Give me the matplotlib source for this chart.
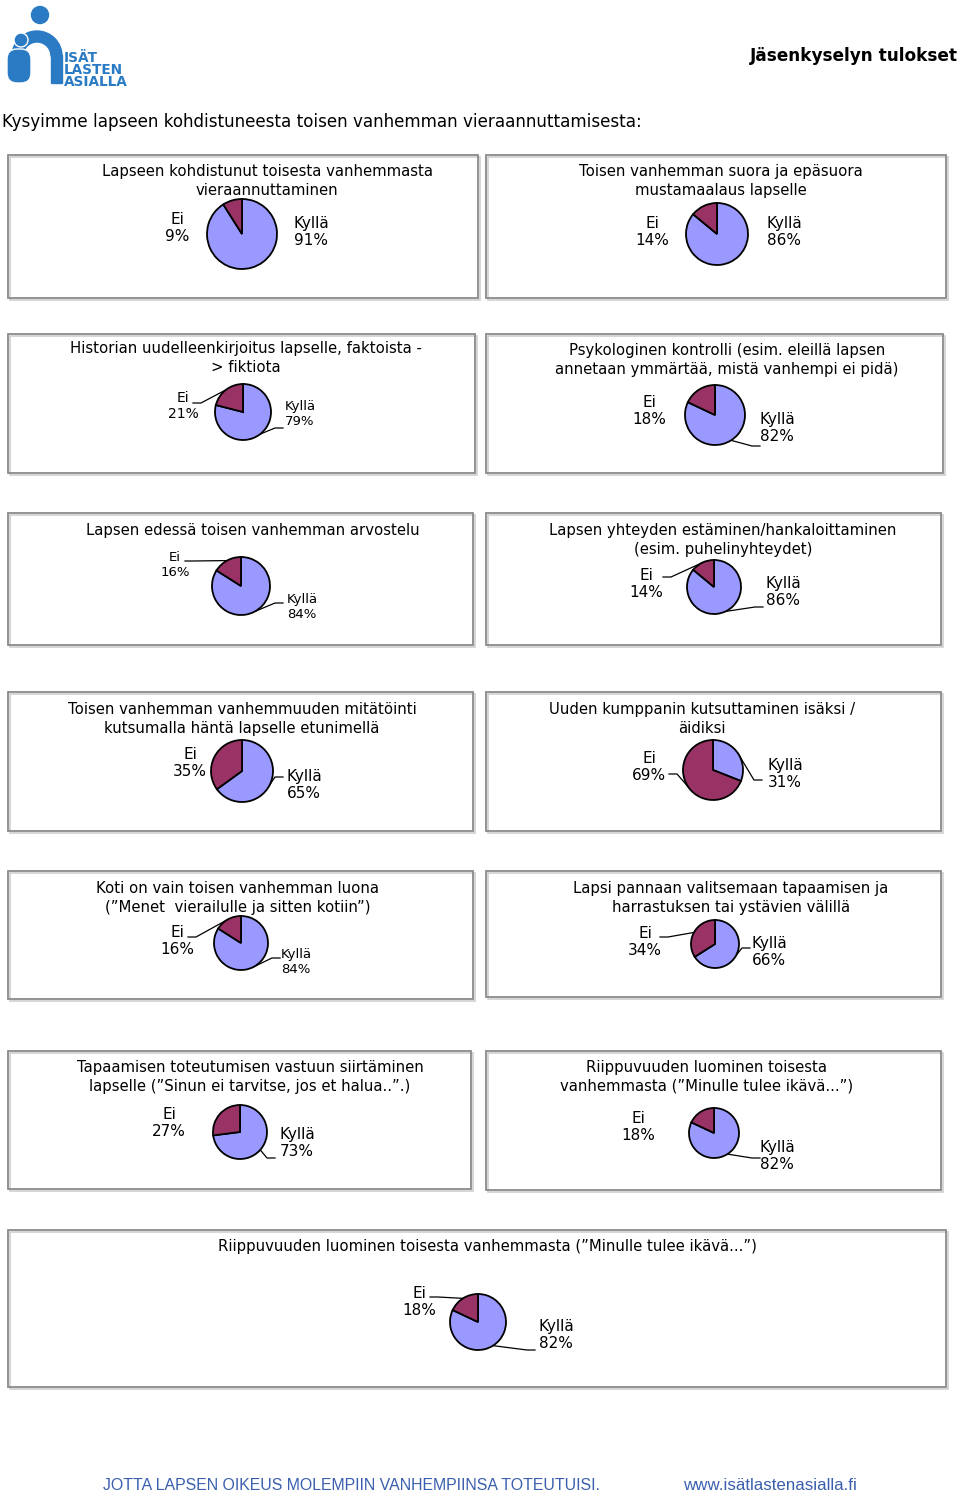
import numpy as np
import matplotlib
matplotlib.use("Agg")
import matplotlib.pyplot as plt
from matplotlib.patches import Rectangle, Circle, Wedge, FancyBboxPatch

plt.rcParams['font.family'] = ['DejaVu Sans']

# --- data -----------------------------------------------------------------
titles = [
    "Lapseen kohdistunut toisesta vanhemmasta\nvieraannuttaminen",
    "Toisen vanhemman suora ja epäsuora\nmustamaalaus lapselle",
    "Historian uudelleenkirjoitus lapselle, faktoista -\n> fiktiota",
    "Psykologinen kontrolli (esim. eleillä lapsen\nannetaan ymmärtää, mistä vanhempi ei pidä)",
    "Lapsen edessä toisen vanhemman arvostelu",
    "Lapsen yhteyden estäminen/hankaloittaminen\n(esim. puhelinyhteydet)",
    "Toisen vanhemman vanhemmuuden mitätöinti\nkutsumalla häntä lapselle etunimellä",
    "Uuden kumppanin kutsuttaminen isäksi /\näidiksi",
    "Koti on vain toisen vanhemman luona\n(”Menet  vierailulle ja sitten kotiin”)",
    "Lapsi pannaan valitsemaan tapaamisen ja\nharrastuksen tai ystävien välillä",
    "Tapaamisen toteutumisen vastuun siirtäminen\nlapselle (”Sinun ei tarvitse, jos et halua..”.)",
    "Riippuvuuden luominen toisesta\nvanhemmasta (”Minulle tulee ikävä...”)",
    "Riippuvuuden luominen toisesta vanhemmasta (”Minulle tulee ikävä...”)",
]
kylla = [91, 86, 79, 82, 84, 86, 65, 31, 84, 66, 73, 82, 82]
ei = [9, 14, 21, 18, 16, 14, 35, 69, 16, 34, 27, 18, 18]
labels = ["Kyllä", "Ei"]

# --- layout (pixels) ------------------------------------------------------
boxes = [(8, 155, 478, 298), (486, 155, 946, 298),
         (8, 334, 475, 473), (486, 334, 943, 473),
         (8, 513, 473, 645), (486, 513, 941, 645),
         (8, 692, 473, 831), (486, 692, 941, 831),
         (8, 871, 473, 999), (486, 871, 941, 997),
         (8, 1051, 471, 1189), (486, 1051, 941, 1190),
         (8, 1230, 946, 1387)]
title_xy = [(267, 181), (721, 181), (246, 358), (727, 360), (253, 530),
            (723, 540), (242, 719), (702, 719), (238, 898), (731, 898),
            (250, 1077), (707, 1077), (487, 1247)]
pies = [(242, 234, 35), (717, 234, 31), (243, 412, 28), (715, 415, 30),
        (241, 586, 29), (714, 587, 27), (242, 771, 31), (713, 770, 30),
        (241, 943, 27), (715, 944, 24), (240, 1132, 27), (714, 1133, 25),
        (478, 1322, 28)]
ei_xy = [(177, 228), (652, 232), (183, 406), (649, 411), (175, 565),
         (646, 584), (190, 763), (649, 767), (177, 941), (645, 942),
         (169, 1123), (638, 1127), (419, 1302)]
ky_xy = [(311, 232), (784, 232), (300, 414), (777, 428), (302, 607),
         (783, 592), (304, 785), (785, 774), (296, 962), (769, 952),
         (297, 1143), (777, 1156), (556, 1335)]
lab_size = [11, 11, 10, 11, 9.5, 11, 11, 11, 11, 11, 11, 11, 11]
kyl_size = [11, 11, 9.5, 11, 9.5, 11, 11, 11, 9.5, 11, 11, 11, 11]
# leader line start points (None = no line)
ei_lead = [None, None, (193, 403), None, (185, 561), (663, 577), None,
           (669, 774), (188, 937), (660, 937), None, None, (430, 1297)]
ky_lead = [None, None, (283, 428), (760, 446), (283, 603), (763, 607),
           (283, 777), (762, 780), (280, 958), (750, 948), (275, 1158),
           (760, 1158), (535, 1350)]

C_KYLLA = "#9999ff"
C_EI = "#993366"
W, H = 960, 1494

fig = plt.figure(figsize=(W / 100, H / 100), dpi=100)
ax = fig.add_axes([0, 0, 1, 1])
ax.set_xlim(0, W)
ax.set_ylim(H, 0)
ax.axis("off")

# header / logo (rough shapes)
blue = "#2a7bc4"
ax.add_patch(Circle((40, 15), 8.5, color=blue))
ax.add_patch(Wedge((37, 56), 25, 180, 360, width=11, color=blue))
ax.add_patch(Rectangle((51, 55), 11, 28, color=blue))
ax.add_patch(Circle((21, 40), 7, fc=blue, ec="white", lw=1.0))
ax.add_patch(FancyBboxPatch((7, 49), 24, 34, boxstyle="round,pad=0,rounding_size=10",
                            fc=blue, ec="white", lw=1.0))
for i, word in enumerate(["ISÄT", "LASTEN", "ASIALLA"]):
    ax.text(64, 58 + i * 12, word, color=blue, fontsize=9.8, fontweight="bold",
            va="center", ha="left")
ax.text(958, 56, "Jäsenkyselyn tulokset", fontsize=12.2, fontweight="bold",
        ha="right", va="center")
ax.text(2, 122, "Kysyimme lapseen kohdistuneesta toisen vanhemman vieraannuttamisesta:",
        fontsize=12.1, ha="left", va="center")

for i in range(len(titles)):
    x0, y0, x1, y1 = boxes[i]
    ax.add_patch(Rectangle((x0 + 2, y0 + 2), x1 - x0, y1 - y0, fill=False,
                           ec="#d0d0d0", lw=1.2))
    ax.add_patch(Rectangle((x0, y0), x1 - x0, y1 - y0, fill=False,
                           ec="#8a8a8a", lw=1.3))
    ax.text(title_xy[i][0], title_xy[i][1], titles[i], fontsize=10.7,
            ha="center", va="center", linespacing=1.3)

    cx, cy, r = pies[i]
    pad = r + 2
    pax = fig.add_axes([(cx - pad) / W, 1 - (cy + pad) / H, 2 * pad / W, 2 * pad / H])
    wedges, _ = pax.pie([kylla[i], ei[i]], colors=[C_KYLLA, C_EI], startangle=90,
                        counterclock=False,
                        wedgeprops=dict(edgecolor="black", linewidth=1.3))
    pax.set_xlim(-pad / r, pad / r)
    pax.set_ylim(-pad / r, pad / r)
    pax.set_aspect("equal")
    pax.axis("off")

    ax.text(ei_xy[i][0], ei_xy[i][1], f"Ei\n{ei[i]}%", fontsize=lab_size[i],
            ha="center", va="center", linespacing=1.15)
    ax.text(ky_xy[i][0], ky_xy[i][1], f"{labels[0]}\n{kylla[i]}%",
            fontsize=kyl_size[i], ha="center", va="center", linespacing=1.15)

    for w, start in zip(wedges, [ky_lead[i], ei_lead[i]]):
        if start is None:
            continue
        a = np.deg2rad((w.theta1 + w.theta2) / 2)
        ex, ey = cx + r * np.cos(a), cy - r * np.sin(a)
        step = 8 if ex > start[0] else -8
        ax.plot([start[0], start[0] + step, ex], [start[1], start[1], ey],
                color="black", lw=0.9)

# footer
ax.text(103, 1485, "JOTTA LAPSEN OIKEUS MOLEMPIIN VANHEMPIINSA TOTEUTUISI.",
        fontsize=11.4, color="#3a5fae", family="Liberation Sans", ha="left",
        va="center")
ax.text(683, 1485, "www.isätlastenasialla.fi", fontsize=12.2, color="#3a5fae",
        family="Liberation Sans", ha="left", va="center")

fig.savefig("out.png", dpi=100)
